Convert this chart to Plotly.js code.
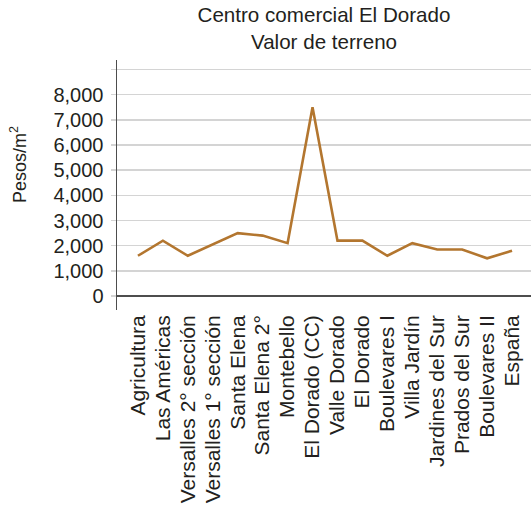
<!DOCTYPE html>
<html>
<head>
<meta charset="utf-8">
<script src="https://cdn.plot.ly/plotly-3.0.1.min.js"></script>
<style>html,body{margin:0;padding:0;background:#fff;}#chart{width:531px;height:507px;}</style>
</head>
<body>
<div id="chart"></div>
<script>
const categories = ["Agricultura","Las Américas","Versalles 2° sección","Versalles 1° sección","Santa Elena","Santa Elena 2°","Montebello","El Dorado (CC)","Valle Dorado","El Dorado","Boulevares I","Villa Jardín","Jardines del Sur","Prados del Sur","Boulevares II","España"];
const values = [1600, 2200, 1600, 2050, 2500, 2400, 2100, 7500, 2200, 2200, 1600, 2100, 1850, 1850, 1500, 1800];
const yTickVals = [0,1000,2000,3000,4000,5000,6000,7000,8000,9000];
const yTickText = ["0","1,000","2,000","3,000","4,000","5,000","6,000","7,000","8,000",""];
const yTitle = "Pesos/m<sup>2</sup>";
const chartTitle = "Centro comercial El Dorado<br>Valor de terreno";

const font = "Liberation Sans, Arial, Helvetica, sans-serif";
const trace = {
  x: categories.map((c,i)=>i),
  y: values,
  type: "scatter",
  mode: "lines",
  line: {color: "#b3762f", width: 2.6},
  hoverinfo: "skip"
};
const layout = {
  width: 531, height: 507,
  margin: {l: 117, r: 0, t: 60, b: 197},
  paper_bgcolor: "#fff", plot_bgcolor: "#fff",
  showlegend: false,
  font: {family: font, color: "#231f20"},
  title: {text: chartTitle, font: {size: 20.6, family: font, color: "#231f20"}, x: 0.5, xref: "paper", xanchor: "center", y: 0.956, yref: "container", yanchor: "top"},
  xaxis: {
    range: [-0.84, 15.76],
    tickmode: "array", tickvals: categories.map((c,i)=>i), ticktext: categories,
    tickangle: -90, tickfont: {size: 21, family: font, color: "#231f20"},
    showgrid: false, zeroline: false, showline: false, ticks: "", fixedrange: true
  },
  yaxis: {
    range: [-556, 9380],
    tickmode: "array", tickvals: yTickVals, ticktext: yTickText,
    tickfont: {size: 20, family: font, color: "#231f20"},
    ticks: "outside", ticklen: 5, tickcolor: "#d4d4d4", tickwidth: 1.5,
    ticklabelstandoff: 3,
    showgrid: true, gridcolor: "#d4d4d4", gridwidth: 1.5,
    zeroline: true, zerolinecolor: "#4d4d4d", zerolinewidth: 1.5,
    showline: true, linecolor: "#4d4d4d", linewidth: 1.5,
    fixedrange: true
  },
  annotations: [{
    text: yTitle, textangle: -90, showarrow: false,
    xref: "paper", yref: "paper", x: -0.239, y: 0.58, xanchor: "center", yanchor: "middle",
    font: {size: 18, family: font, color: "#231f20"}
  }]
};
Plotly.newPlot("chart", [trace], layout, {staticPlot: true, displayModeBar: false});
</script>
</body>
</html>
